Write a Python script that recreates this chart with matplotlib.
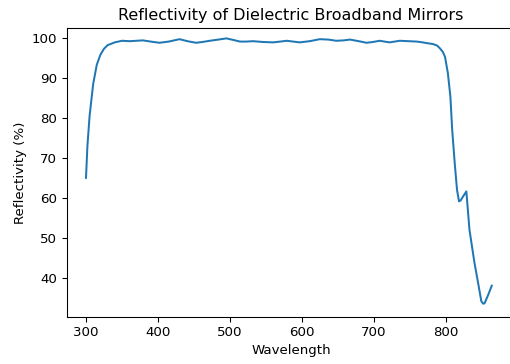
import matplotlib
matplotlib.use("Agg")
import matplotlib.pyplot as plt

# wavelength (nm) and reflectivity (%)
WAVELENGTH = [300, 302, 305, 310, 315, 320, 325, 330, 340, 350, 361, 370,
              379, 390, 402, 415, 430, 441, 453, 462, 472, 484, 495, 505,
              514, 523, 532, 546, 560, 570, 579, 588, 597, 611, 625, 637,
              648, 658, 667, 679, 690, 699, 708, 715, 722, 729, 736, 748,
              760, 768, 774, 782, 788, 792, 796, 799, 803, 806.5, 809, 812.5,
              815.7, 818.5, 821, 824, 828.7, 833, 840, 845, 849.5, 852, 854,
              859, 864]
REFLECTIVITY = [65.0, 73.0, 80.5, 88.5, 93.3, 95.8, 97.3, 98.2, 98.9, 99.3,
                99.2, 99.3, 99.4, 99.1, 98.8, 99.1, 99.7, 99.2, 98.8, 99.0,
                99.3, 99.6, 99.9, 99.5, 99.1, 99.1, 99.2, 99.0, 98.9, 99.1,
                99.3, 99.1, 98.9, 99.2, 99.7, 99.6, 99.3, 99.4, 99.6, 99.2,
                98.8, 99.0, 99.3, 99.1, 98.9, 99.1, 99.3, 99.2, 99.1, 98.9,
                98.7, 98.5, 98.1, 97.4, 96.5, 95.3, 91.2, 85.3, 77.0, 68.7,
                62.0, 59.1, 59.4, 60.3, 61.6, 52.0, 43.7, 38.7, 34.1, 33.5,
                33.6, 35.7, 38.0]


def main():
    fig = plt.figure(figsize=(510 / 96, 364 / 96), dpi=96)
    # right edge of the axes sits just past the canvas, as in the cropped original
    ax = fig.add_axes([0.1308, 0.130, 0.880, 0.792])
    ax.plot(WAVELENGTH, REFLECTIVITY, color="#1f77b4", lw=1.5)
    ax.set_xlim(273.2, 897)
    ax.set_ylim(30.25, 102.4)
    ax.set_xticks([300, 400, 500, 600, 700, 800])
    ax.set_yticks([40, 50, 60, 70, 80, 90, 100])
    ax.set_title("Reflectivity of Dielectric Broadband Mirrors", fontsize=12)
    ax.set_xlabel("Wavelength")
    ax.set_ylabel("Reflectivity (%)")
    fig.savefig("out.png", dpi=96)


if __name__ == "__main__":
    main()
